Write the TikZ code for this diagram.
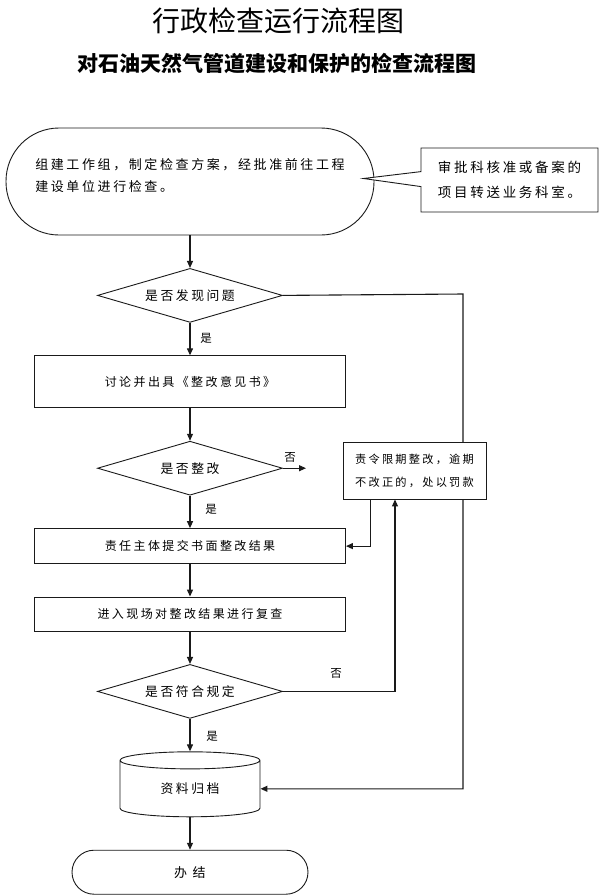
\documentclass[tikz,border=0pt]{standalone}
\usepackage{fontspec}
\newfontfamily\cjk[LetterSpace=20]{Noto Sans CJK SC}
\newfontfamily\cjkhead{Noto Sans CJK SC}
\usetikzlibrary{arrows.meta,positioning,shapes.geometric,shapes.callouts}
\definecolor{Ink}{HTML}{1A1A1A}
\definecolor{Paper}{HTML}{FFFFFF}
\tikzset{
  terminal/.style={
    draw=Ink, line width=0.9pt, fill=Paper, inner sep=0pt
  },
  process/.style={
    draw=Ink, line width=0.9pt, fill=Paper, minimum width=311pt,
    inner sep=0pt, font=\cjk\fontsize{12}{14}\selectfont
  },
  decision/.style={
    diamond, draw=Ink, line width=0.9pt, fill=Paper, aspect=3.4,
    minimum width=185pt, minimum height=54pt, inner sep=0pt,
    font=\cjk\fontsize{12.8}{15}\selectfont
  },
  notebox/.style={
    draw=Ink, line width=0.9pt, fill=Paper, align=left, inner sep=0pt
  },
  answer/.style={font=\cjk\fontsize{11.5}{13}\selectfont, inner sep=0pt},
  flow/.style={-{Triangle[length=7pt,width=6pt]}, line width=1.1pt, draw=Ink},
  plainflow/.style={line width=1.1pt, draw=Ink}
}
\begin{document}
\begin{tikzpicture}[x=1pt,y=-1pt,node distance=32.5pt]
  \useasboundingbox (0,0) rectangle (599,895);
  \node[font=\cjkhead\fontsize{28}{30}\selectfont] (title) at (278,21) {行政检查运行流程图};
  \node[font=\cjkhead\bfseries\fontsize{21}{24}\selectfont] (subtitle) at (277,63) {对石油天然气管道建设和保护的检查流程图};
  \node[terminal,rounded corners=53pt,minimum width=368pt,minimum height=107pt,align=left,
    text depth=14pt,font=\cjk\fontsize{13}{22}\selectfont] (start) at (190,181.5)
    {组建工作组，制定检查方案，经批准前往工程\\建设单位进行检查。};
  \node[rectangle callout,draw=Ink,line width=0.9pt,fill=Paper,minimum width=177pt,minimum height=64pt,
    align=left,inner sep=0pt,callout absolute pointer={([xshift=-11pt,yshift=3pt]start.east)},
    callout pointer width=15pt,font=\cjk\fontsize{13.5}{25}\selectfont] (note) at (509.5,180)
    {审批科核准或备案的\\项目转送业务科室。};
  \node[decision,below=of start] (find) {是否发现问题};
  \node[process,below=of find,minimum height=52pt] (discuss) {讨论并出具《整改意见书》};
  \node[decision,below=of discuss] (rectify) {是否整改};
  \node[process,below=of rectify,minimum height=35pt] (submit) {责任主体提交书面整改结果};
  \node[process,below=of submit,minimum height=34pt] (recheck) {进入现场对整改结果进行复查};
  \node[decision,below=of recheck] (comply) {是否符合规定};
  \node[cylinder,shape border rotate=90,draw=Ink,line width=0.9pt,fill=Paper,aspect=0.29,
    minimum width=140pt,minimum height=65pt,inner sep=0pt,below=of comply,
    font=\cjk\fontsize{12.8}{15}\selectfont] (archive) {资料归档};
  \node[terminal,rounded corners=22pt,minimum width=236pt,minimum height=44pt,below=of archive,
    font=\cjk\fontsize{13}{15}\selectfont] (finish) {办\ 结};
  \coordinate (rail) at (463,294);
  \coordinate (noend) at (306,0);
  \draw[flow] (start)--(find);
  \draw[flow] (find)--(discuss);
  \draw[flow] (discuss)--(rectify);
  \draw[flow] (rectify)--(submit);
  \draw[flow] (submit)--(recheck);
  \draw[flow] (recheck)--(comply);
  \draw[flow] (comply)--(archive);
  \draw[flow] (archive)--(finish);
  \draw[flow] (find.east)--(rail)|-(archive.east);
  \draw[flow] (rectify.east)--(rectify.east-|noend);
  % penalty box sits over the rail
  \node[notebox,align=center,minimum width=143pt,minimum height=57pt,
    font=\cjk\fontsize{11.2}{23}\selectfont] (penalty) at (414.5,470.5)
    {责令限期整改，逾期\\不改正的，处以罚款};
  \draw[flow] ([xshift=-44pt]penalty.south)|-(submit.east);
  \draw[flow] (comply.east)-|([xshift=-19.5pt]penalty.south);
  \node[answer] (yes1) at (206,338) {是};
  \node[answer] (no1) at (290,457) {否};
  \node[answer] (yes2) at (211,509) {是};
  \node[answer] (no2) at (336,673) {否};
  \node[answer] (yes3) at (212,736) {是};
\end{tikzpicture}
\end{document}
